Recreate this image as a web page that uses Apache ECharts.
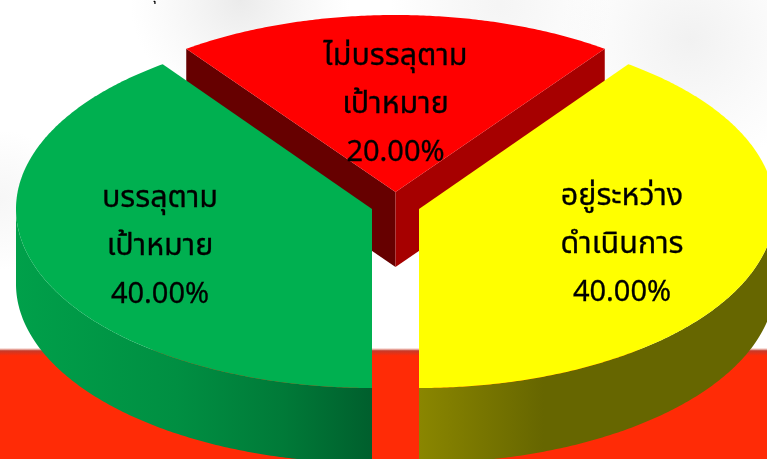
<!DOCTYPE html>
<html><head><meta charset="utf-8">
<style>html,body{margin:0;padding:0;background:#fff}#c{width:767px;height:459px}</style>
<script src="https://cdn.jsdelivr.net/npm/echarts@6/dist/echarts.min.js"></script>
</head><body><div id="c"></div>
<script>
const categories = ['ไม่บรรลุตาม\nเป้าหมาย', 'อยู่ระหว่าง\nดำเนินการ', 'บรรลุตาม\nเป้าหมาย'];
const values = [20, 40, 40];
const percentLabels = ['20.00%', '40.00%', '40.00%'];

const topColors = ['#FF0000', '#FFFF00', '#00B050'];
const startWallColors = ['#660000', null, null];
const endWallColors = ['#A60000', null, null];
const rimStops = [
  null,
  [[0, '#8A8600'], [0.35, '#666600'], [1, '#666600']],
  [[0, '#005F2D'], [0.25, '#007A38'], [0.55, '#008F42'], [1, '#00A04A']]
];
const explodeX = [0, 23.5, -23.5];
const explodeY = [-17, 0, 0];
const radiusTrimY = [-2, 0, 0];
const labelDX = [0, 203, -212];
const labelDY = [-89, 34, 36];

const CX = 395.5, CY = 209, RX = 356, RY = 179, DEPTH = 75, START_DEG = -36;
const total = values.reduce((a, b) => a + b, 0);

function pt(ox, oy, deg, extra, ry) {
  const r = deg * Math.PI / 180;
  return [ox + RX * Math.sin(r), oy - ry * Math.cos(r) + (extra || 0)];
}
function arc(ox, oy, a0, a1, extra, ry) {
  const n = Math.max(2, Math.ceil(Math.abs(a1 - a0) * 2));
  const out = [];
  for (let i = 0; i <= n; i++) out.push(pt(ox, oy, a0 + (a1 - a0) * i / n, extra, ry));
  return out;
}
function renderSlice(params, api) {
  const i = params.dataIndex;
  let before = 0;
  for (let k = 0; k < i; k++) before += values[k];
  const a0 = START_DEG + before / total * 360;
  const a1 = a0 + api.value(1) / total * 360;
  const ox = CX + explodeX[i], oy = CY + explodeY[i], ry = RY + radiusTrimY[i];
  const children = [];
  const s0 = Math.sin(a0 * Math.PI / 180), s1 = Math.sin(a1 * Math.PI / 180);
  if (s0 < -1e-6 && startWallColors[i]) {
    const t = pt(ox, oy, a0, 0, ry);
    children.push({type: 'polygon', shape: {points: [[ox, oy], t, [t[0], t[1] + DEPTH], [ox, oy + DEPTH]]}, style: {fill: startWallColors[i]}});
  }
  if (s1 > 1e-6 && endWallColors[i]) {
    const t = pt(ox, oy, a1, 0, ry);
    children.push({type: 'polygon', shape: {points: [[ox, oy], t, [t[0], t[1] + DEPTH], [ox, oy + DEPTH]]}, style: {fill: endWallColors[i]}});
  }
  const w0 = Math.max(a0, 90), w1 = Math.min(a1, 270);
  if (w1 > w0 && rimStops[i]) {
    const top = arc(ox, oy, w0, w1, 0, ry);
    const bottom = arc(ox, oy, w1, w0, DEPTH, ry);
    const xs = top.map(p => p[0]);
    const minX = Math.min.apply(null, xs), maxX = Math.max.apply(null, xs);
    const bx = Math.abs(ox - minX) < Math.abs(ox - maxX) ? maxX : minX;
    children.push({
      type: 'polygon',
      shape: {points: top.concat(bottom)},
      style: {fill: {type: 'linear', global: true, x: ox, y: 0, x2: bx, y2: 0,
        colorStops: rimStops[i].map(s => ({offset: s[0], color: s[1]}))}}
    });
  }
  children.push({
    type: 'polygon',
    shape: {points: [[ox, oy]].concat(arc(ox, oy, a0, a1, 0, ry))},
    style: {fill: api.visual('color')}
  });
  const lx = ox + labelDX[i], ly = oy + labelDY[i];
  children.push({
    type: 'text', z2: 100,
    style: {
      x: lx, y: ly - 20.5,
      text: categories[i],
      fill: '#000', stroke: '#000', lineWidth: 0.3, align: 'center', verticalAlign: 'middle',
      font: '30.5px "Noto Sans Thai", "Noto Sans", sans-serif',
      lineHeight: 48
    }
  });
  children.push({
    type: 'text', z2: 100,
    style: {
      x: lx, y: ly + 48 + 1.5,
      text: percentLabels[i],
      fill: '#000', stroke: '#000', lineWidth: 0.3, align: 'center', verticalAlign: 'middle',
      font: '29px "Noto Sans", "Open Sans", sans-serif'
    }
  });
  return {type: 'group', children};
}
function cloud(x, y, r, color) {
  return {type: 'circle', silent: true, z: -10, shape: {cx: x, cy: y, r},
    style: {fill: {type: 'radial', x: 0.5, y: 0.5, r: 0.5,
      colorStops: [{offset: 0, color}, {offset: 1, color: 'rgba(235,235,235,0)'}]}}};
}
const chart = echarts.init(document.getElementById('c'), null, {renderer: 'canvas'});
chart.setOption({
  animation: false,
  backgroundColor: '#ffffff',
  graphic: [
    cloud(240, 0, 110, 'rgba(226,226,226,0.7)'),
    cloud(690, 40, 130, 'rgba(232,232,232,0.6)'),
    cloud(500, 5, 110, 'rgba(238,238,238,0.6)'),
    cloud(0, 200, 70, 'rgba(238,238,238,0.5)'),
    {type: 'rect', silent: true, z: -9, shape: {x: 0, y: 348, width: 767, height: 111},
      style: {fill: {type: 'linear', x: 0, y: 0, x2: 0, y2: 1, colorStops: [
        {offset: 0, color: 'rgba(255,240,235,0.6)'},
        {offset: 0.025, color: '#C63A2A'},
        {offset: 0.07, color: '#FF2B06'},
        {offset: 1, color: '#FF2B06'}]}}},
    {type: 'text', silent: true, z: -5, style: {x: 157, y: -11, text: 'ุ', fill: '#000', font: '16px "Noto Sans Thai", "Noto Sans", sans-serif', align: 'center'}}
  ],
  series: [{
    type: 'custom',
    coordinateSystem: 'none',
    renderItem: renderSlice,
    data: categories.map((c, i) => ({name: c, value: [i, values[i]], itemStyle: {color: topColors[i]}}))
  }]
});
</script></body></html>
